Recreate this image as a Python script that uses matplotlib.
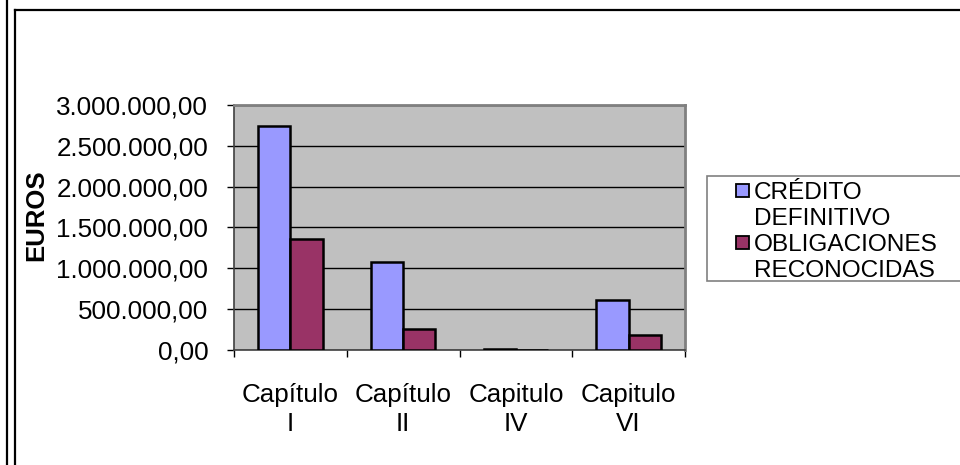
import matplotlib
matplotlib.use("Agg")
import matplotlib.pyplot as plt
import numpy as np
from matplotlib.lines import Line2D
from matplotlib.patches import Rectangle
from matplotlib.ticker import FuncFormatter, MultipleLocator

categories = ["Capítulo\nI", "Capítulo\nII", "Capitulo\nIV", "Capitulo\nVI"]
series_names = ["CRÉDITO DEFINITIVO", "OBLIGACIONES RECONOCIDAS"]
credito = [2740000, 1078000, 8000, 615000]
obligaciones = [1355000, 255000, 4000, 182000]
colors = ["#9999FF", "#993366"]

plt.rcParams['font.family'] = ['Liberation Sans', 'DejaVu Sans']

W, H = 960, 465
fig = plt.figure(figsize=(W / 100, H / 100), dpi=100)

def fx(x):
    return x / W

def fy(y):
    return 1 - y / H

# Plot area
ax = fig.add_axes([fx(234), fy(350), (685 - 234) / W, (350 - 105) / H])
ax.set_facecolor("#C0C0C0")

n = len(categories)
x = np.arange(n)
bw = 0.285
ax.bar(x - bw / 2, credito, width=bw, color=colors[0], edgecolor="black", linewidth=1.8, zorder=3)
ax.bar(x + bw / 2, obligaciones, width=bw, color=colors[1], edgecolor="black", linewidth=1.8, zorder=3)

ax.set_xlim(-0.5, n - 0.5)
ax.set_ylim(0, 3000000)
ax.yaxis.set_major_locator(MultipleLocator(500000))
ax.yaxis.grid(True, color="black", linewidth=1.0, zorder=1)
ax.set_axisbelow(True)

def fmt(v, pos):
    s = f"{v:,.2f}"
    return s.replace(",", "X").replace(".", ",").replace("X", ".")

ax.yaxis.set_major_formatter(FuncFormatter(fmt))
ax.tick_params(axis="y", direction="out", length=5, width=1, pad=13.5, labelsize=18.7)

ax.set_xticks(x)
ax.set_xticklabels(categories, fontsize=18.7, linespacing=1.22)
ax.tick_params(axis="x", which="major", length=0, pad=24)
ax.set_xticks(np.arange(-0.5, n, 1.0), minor=True)
ax.tick_params(axis="x", which="minor", direction="out", length=5, width=1)

for s in ["top", "right"]:
    ax.spines[s].set_color("#808080")
    ax.spines[s].set_linewidth(2)
ax.spines["left"].set_color("#404040")
ax.spines["bottom"].set_color("#404040")
ax.spines["left"].set_linewidth(1.2)
ax.spines["bottom"].set_linewidth(1.2)

# Y axis title
fig.text(fx(36), fy(215), "EUROS", rotation=90, ha="center", va="center",
         fontsize=18.5, fontweight="bold")

# Legend drawn manually
fig.add_artist(Rectangle((fx(707), fy(281)), (965 - 707) / W, (281 - 176) / H,
                         transform=fig.transFigure, facecolor="white",
                         edgecolor="#808080", linewidth=1.2))
baselines = [[199, 225], [251, 277]]
for name, col, bl in zip(series_names, colors, baselines):
    words = name.split(" ")
    cy = bl[0] - 8.5
    fig.add_artist(Rectangle((fx(736), fy(cy + 6.5)), 13 / W, 13 / H,
                             transform=fig.transFigure, facecolor=col,
                             edgecolor="black", linewidth=1.3))
    for w, b in zip(words, bl):
        fig.text(fx(754), fy(b), w, ha="left", va="baseline", fontsize=17.6)

# Outer frame lines
frame_kw = dict(color="black", linewidth=1.6, transform=fig.transFigure)
fig.add_artist(Line2D([fx(6.5), fx(6.5)], [0, 1], **frame_kw))
fig.add_artist(Line2D([fx(15), fx(15)], [0, fy(10.5)], **frame_kw))
fig.add_artist(Line2D([fx(15), 1], [fy(10.5), fy(10.5)], **frame_kw))

fig.savefig("out.png", dpi=100)
